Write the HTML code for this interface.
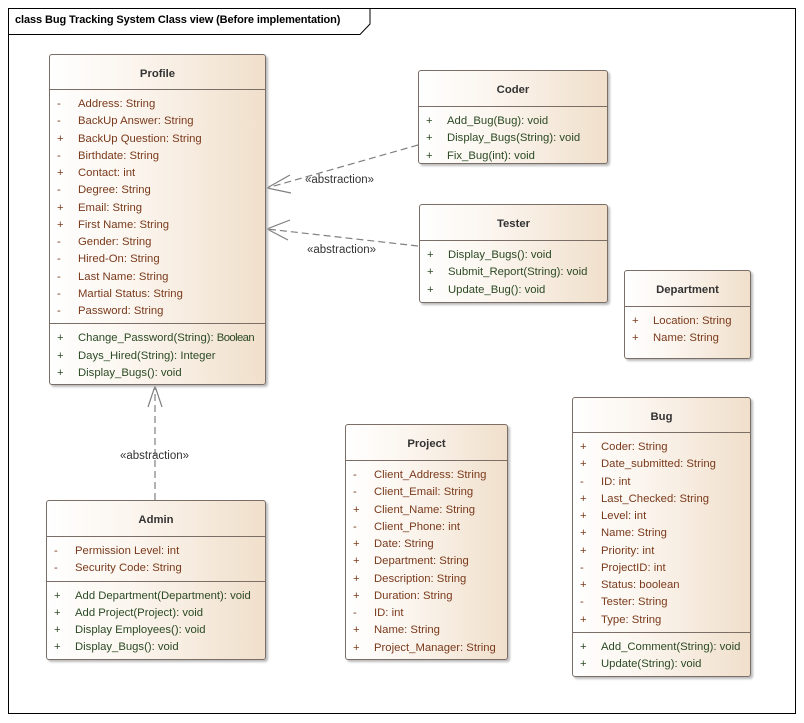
<!DOCTYPE html>
<html><head><meta charset="utf-8"><style>
*{margin:0;padding:0;box-sizing:border-box}
body{width:804px;height:723px;background:#fff;position:relative;overflow:hidden;font-family:"Liberation Sans",sans-serif;font-size:11.3px}
.frame{position:absolute;left:8px;top:8px;width:788px;height:706px;border:1px solid #000}
.box{position:absolute;border:1px solid #7a6e66;border-radius:3px;background:linear-gradient(to right,#fff 0%,#fbf5ee 40%,#f0dfcb 100%);box-shadow:2px 2px 2px #bbb}
.hd{font-weight:bold;text-align:center;color:#333;border-bottom:1px solid #7a6e66;display:flex;align-items:center;justify-content:center;padding-top:3px}
.sec{padding:6px 0 3px 0}
.sec+.sec{border-top:1px solid #7a6e66}
.r{height:17.25px;line-height:17.25px;white-space:nowrap;position:relative}
.r b{font-weight:normal;position:absolute;left:7px}
.r span{position:absolute;left:28px}
.a{color:#7a3a1c}
.o{color:#2b4a24}
.lbl{position:absolute;font-size:11.5px;color:#333}
</style></head><body>
<div class="frame"></div>
<svg style="position:absolute;left:0;top:0" width="804" height="723">
<path d="M8.5 34.5 H360 L370 24 V8.5" fill="none" stroke="#000"/>
<g stroke="#808080" fill="none" stroke-width="1.2">
<line x1="418" y1="145" x2="267" y2="188" stroke-dasharray="7,4"/>
<path d="M290 175 L267 188 L291 193"/>
<line x1="418" y1="246" x2="267" y2="229" stroke-dasharray="7,4"/>
<path d="M290 220 L267 229 L288 240"/>
<line x1="155" y1="500" x2="155" y2="386" stroke-dasharray="7,4"/>
<path d="M148 407 L155 386 L162 407"/>
</g>
</svg>
<div style="position:absolute;left:15px;top:14px;font-weight:bold;font-size:11px;color:#000;letter-spacing:-0.1px">class Bug Tracking System Class view (Before implementation)</div>
<div class="lbl" style="left:305px;top:174px">«abstraction»</div>
<div class="lbl" style="left:307px;top:244px">«abstraction»</div>
<div class="lbl" style="left:120px;top:450px">«abstraction»</div>

<div class="box" style="left:49px;top:54px;width:217px;height:331px">
<div class="hd" style="height:35px">Profile</div>
<div class="sec a">
<div class="r"><b>-</b><span>Address: String</span></div>
<div class="r"><b>-</b><span>BackUp Answer: String</span></div>
<div class="r"><b>+</b><span>BackUp Question: String</span></div>
<div class="r"><b>-</b><span>Birthdate: String</span></div>
<div class="r"><b>+</b><span>Contact: int</span></div>
<div class="r"><b>-</b><span>Degree: String</span></div>
<div class="r"><b>+</b><span>Email: String</span></div>
<div class="r"><b>+</b><span>First Name: String</span></div>
<div class="r"><b>-</b><span>Gender: String</span></div>
<div class="r"><b>-</b><span>Hired-On: String</span></div>
<div class="r"><b>-</b><span>Last Name: String</span></div>
<div class="r"><b>-</b><span>Martial Status: String</span></div>
<div class="r"><b>-</b><span>Password: String</span></div>
</div>
<div class="sec o">
<div class="r"><b>+</b><span>Change_Password(String): <span style="position:static;letter-spacing:-0.6px">Boolean</span></span></div>
<div class="r"><b>+</b><span>Days_Hired(String): Integer</span></div>
<div class="r"><b>+</b><span>Display_Bugs(): void</span></div>
</div></div>

<div class="box" style="left:418px;top:70px;width:190px;height:94px">
<div class="hd" style="height:36px">Coder</div>
<div class="sec o">
<div class="r"><b>+</b><span>Add_Bug(Bug): void</span></div>
<div class="r"><b>+</b><span>Display_Bugs(String): void</span></div>
<div class="r"><b>+</b><span>Fix_Bug(int): void</span></div>
</div></div>

<div class="box" style="left:419px;top:204px;width:189px;height:99px">
<div class="hd" style="height:36px">Tester</div>
<div class="sec o">
<div class="r"><b>+</b><span>Display_Bugs(): void</span></div>
<div class="r"><b>+</b><span>Submit_Report(String): void</span></div>
<div class="r"><b>+</b><span>Update_Bug(): void</span></div>
</div></div>

<div class="box" style="left:624px;top:270px;width:127px;height:89px">
<div class="hd" style="height:36px">Department</div>
<div class="sec a">
<div class="r"><b>+</b><span>Location: String</span></div>
<div class="r"><b>+</b><span>Name: String</span></div>
</div></div>

<div class="box" style="left:345px;top:424px;width:163px;height:236px">
<div class="hd" style="height:36px">Project</div>
<div class="sec a">
<div class="r"><b>-</b><span>Client_Address: String</span></div>
<div class="r"><b>-</b><span>Client_Email: String</span></div>
<div class="r"><b>+</b><span>Client_Name: String</span></div>
<div class="r"><b>-</b><span>Client_Phone: int</span></div>
<div class="r"><b>+</b><span>Date: String</span></div>
<div class="r"><b>+</b><span>Department: String</span></div>
<div class="r"><b>+</b><span>Description: String</span></div>
<div class="r"><b>+</b><span>Duration: String</span></div>
<div class="r"><b>-</b><span>ID: int</span></div>
<div class="r"><b>+</b><span>Name: String</span></div>
<div class="r"><b>+</b><span>Project_Manager: String</span></div>
</div></div>

<div class="box" style="left:572px;top:397px;width:179px;height:280px">
<div class="hd" style="height:35px">Bug</div>
<div class="sec a">
<div class="r"><b>+</b><span>Coder: String</span></div>
<div class="r"><b>+</b><span>Date_submitted: String</span></div>
<div class="r"><b>-</b><span>ID: int</span></div>
<div class="r"><b>+</b><span>Last_Checked: String</span></div>
<div class="r"><b>+</b><span>Level: int</span></div>
<div class="r"><b>+</b><span>Name: String</span></div>
<div class="r"><b>+</b><span>Priority: int</span></div>
<div class="r"><b>-</b><span>ProjectID: int</span></div>
<div class="r"><b>+</b><span>Status: boolean</span></div>
<div class="r"><b>-</b><span>Tester: String</span></div>
<div class="r"><b>+</b><span>Type: String</span></div>
</div>
<div class="sec o">
<div class="r"><b>+</b><span>Add_Comment(String): void</span></div>
<div class="r"><b>+</b><span>Update(String): void</span></div>
</div></div>

<div class="box" style="left:46px;top:500px;width:220px;height:160px">
<div class="hd" style="height:36px">Admin</div>
<div class="sec a">
<div class="r"><b>-</b><span>Permission Level: int</span></div>
<div class="r"><b>-</b><span>Security Code: String</span></div>
</div>
<div class="sec o">
<div class="r"><b>+</b><span>Add Department(Department): void</span></div>
<div class="r"><b>+</b><span>Add Project(Project): void</span></div>
<div class="r"><b>+</b><span>Display Employees(): void</span></div>
<div class="r"><b>+</b><span>Display_Bugs(): void</span></div>
</div></div>
</body></html>
